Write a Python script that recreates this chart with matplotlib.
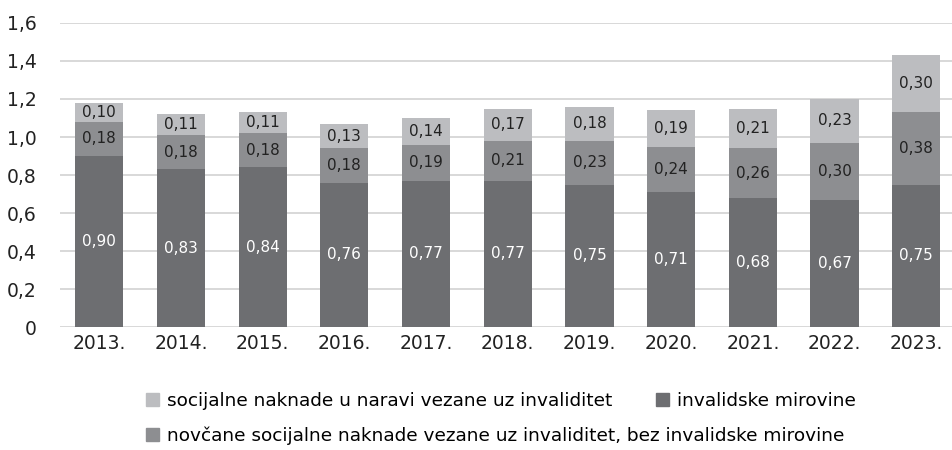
import numpy as np
import matplotlib.pyplot as plt
from matplotlib.patches import Patch

years = ['2013.', '2014.', '2015.', '2016.', '2017.', '2018.', '2019.', '2020.', '2021.', '2022.', '2023.']
invalidske = [0.90, 0.83, 0.84, 0.76, 0.77, 0.77, 0.75, 0.71, 0.68, 0.67, 0.75]
novcane = [0.18, 0.18, 0.18, 0.18, 0.19, 0.21, 0.23, 0.24, 0.26, 0.30, 0.38]
u_naravi = [0.10, 0.11, 0.11, 0.13, 0.14, 0.17, 0.18, 0.19, 0.21, 0.23, 0.30]

lab_naravi = 'socijalne naknade u naravi vezane uz invaliditet'
lab_inv = 'invalidske mirovine'
lab_nov = 'novčane socijalne naknade vezane uz invaliditet, bez invalidske mirovine'

c_dark = '#6d6e71'
c_mid = '#8d8e91'
c_light = '#bcbdc0'

def fmt(v):
    return '{:.2f}'.format(v).replace('.', ',')

fig = plt.figure(figsize=(9.53, 4.5), dpi=100)
ax = fig.add_axes([0.063, 0.273, 0.937, 0.676])

x = np.arange(len(years))
w = 0.59
inv = np.array(invalidske)
nov = np.array(novcane)
nar = np.array(u_naravi)

ax.bar(x, inv, w, color=c_dark, zorder=3)
ax.bar(x, nov, w, bottom=inv, color=c_mid, zorder=3)
ax.bar(x, nar, w, bottom=inv + nov, color=c_light, zorder=3)

for i in range(len(years)):
    ax.text(x[i], inv[i] / 2, fmt(inv[i]), ha='center', va='center', color='white', fontsize=11, zorder=4)
    ax.text(x[i], inv[i] + nov[i] / 2, fmt(nov[i]), ha='center', va='center', color='#222222', fontsize=11, zorder=4)
    ax.text(x[i], inv[i] + nov[i] + nar[i] / 2, fmt(nar[i]), ha='center', va='center', color='#222222', fontsize=11, zorder=4)

ax.set_ylim(0, 1.6)
ax.set_xlim(-0.48, 10.45)
yt = np.arange(0, 1.61, 0.2)
ax.set_yticks(yt)
ax.set_yticklabels(['0'] + [fmt(v)[:-1] for v in yt[1:]])
ax.set_xticks(x)
ax.set_xticklabels(years)
ax.tick_params(axis='both', length=0, labelsize=13.5, colors='#222222')
ax.tick_params(axis='y', pad=17)
ax.tick_params(axis='x', pad=5)
ax.grid(axis='y', color='#d2d2d2', linewidth=1.2, zorder=0)
for s in ax.spines.values():
    s.set_visible(False)

leg_font = {'family': ['DejaVu Sans'], 'size': 13.3}
h_nar = Patch(color=c_light)
h_inv = Patch(color=c_dark)
h_nov = Patch(color=c_mid)
fig.legend([h_nar, h_inv], [lab_naravi, lab_inv], loc='center left', bbox_to_anchor=(0.136, 0.11),
           ncol=2, frameon=False, prop=leg_font, handlelength=0.7, handleheight=0.7,
           handletextpad=0.4, columnspacing=2.4)
fig.legend([h_nov], [lab_nov], loc='center left', bbox_to_anchor=(0.136, 0.031),
           frameon=False, prop=leg_font, handlelength=0.7, handleheight=0.7, handletextpad=0.4)

fig.savefig('out.png', dpi=100)
